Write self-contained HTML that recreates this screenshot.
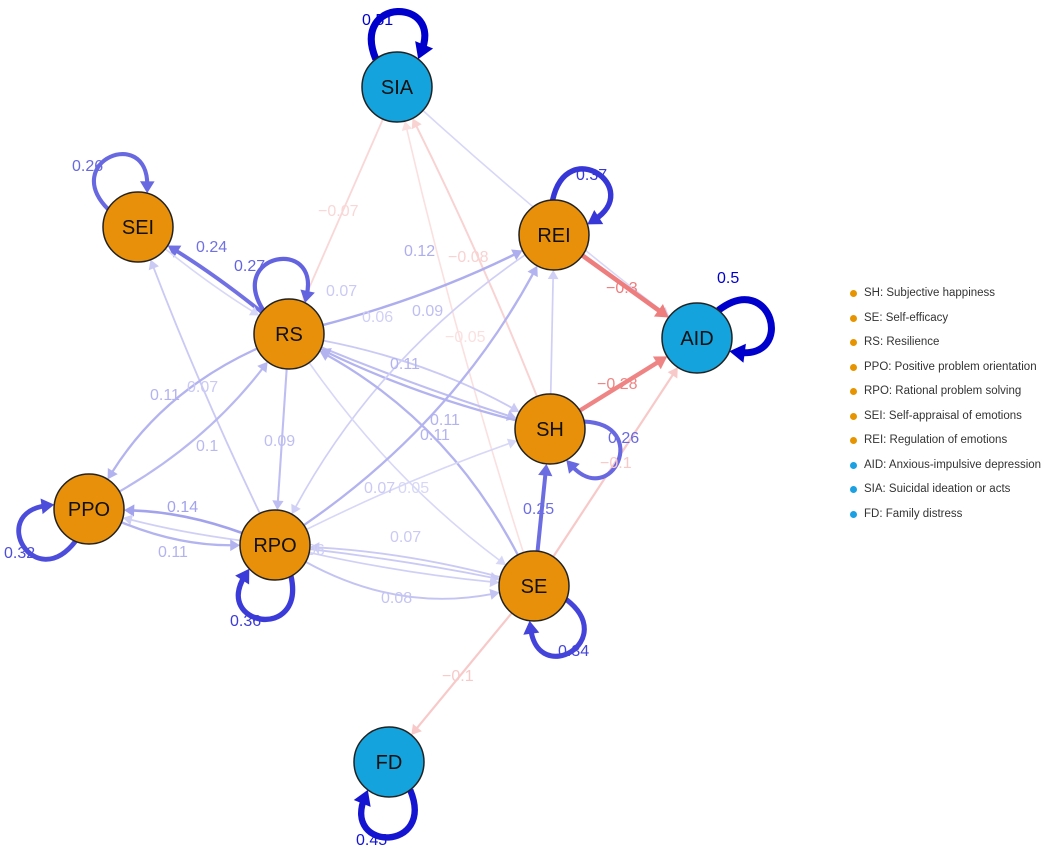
<!DOCTYPE html>
<html><head><meta charset="utf-8"><style>
body{margin:0;background:#fff;width:1058px;height:851px;overflow:hidden;font-family:"Liberation Sans",sans-serif}
#lg{position:absolute;left:846px;top:284px;font-size:11.5px;color:#333}
#lg div{height:24.5px;line-height:18px;position:relative;padding-left:18px;white-space:nowrap}
#lg div:before{content:"";position:absolute;left:4px;top:6px;width:7px;height:7px;border-radius:50%;background:var(--c)}
</style></head><body>
<svg id="s" width="1058" height="851" style="position:absolute;left:0;top:0"></svg>
<div id="lg">
<div style="--c:#e69500">SH: Subjective happiness</div>
<div style="--c:#e69500">SE: Self-efficacy</div>
<div style="--c:#e69500">RS: Resilience</div>
<div style="--c:#e69500">PPO: Positive problem orientation</div>
<div style="--c:#e69500">RPO: Rational problem solving</div>
<div style="--c:#e69500">SEI: Self-appraisal of emotions</div>
<div style="--c:#e69500">REI: Regulation of emotions</div>
<div style="--c:#1ba1e2">AID: Anxious-impulsive depression</div>
<div style="--c:#1ba1e2">SIA: Suicidal ideation or acts</div>
<div style="--c:#1ba1e2">FD: Family distress</div>
</div>
<script>
var N={SIA:[397,87,1],SEI:[138,227,0],REI:[554,235,0],RS:[289,334,0],AID:[697,338,1],SH:[550,429,0],PPO:[89,509,0],RPO:[275,545,0],SE:[534,586,0],FD:[389,762,1]};
var R=35,out="",lab="";
function col(w){var a=Math.min(1,Math.pow(Math.abs(w)/0.5,0.8));var b=w>0?[0,0,205]:[230,60,60];
return "rgb("+b.map(function(v){return Math.round(255+(v-255)*a)}).join(",")+")";}
function wd(w){return 1+Math.abs(w)*12;}
function arrow(x,y,dx,dy,c,w){var L=Math.hypot(dx,dy);dx/=L;dy/=L;var s=7+w*1.2,h=4+w*0.8;
var bx=x-dx*s,by=y-dy*s;return '<polygon points="'+x+','+y+' '+(bx-dy*h)+','+(by+dx*h)+' '+(bx+dy*h)+','+(by-dx*h)+'" fill="'+c+'"/>';}
function edge(a,b,w,cv,t,lx,ly){var A=N[a],B=N[b],mx=(A[0]+B[0])/2,my=(A[1]+B[1])/2,dx=B[0]-A[0],dy=B[1]-A[1];
var cx=mx-dy*cv,cy=my+dx*cv;
var u=Math.hypot(cx-A[0],cy-A[1]),sx=A[0]+(cx-A[0])/u*R,sy=A[1]+(cy-A[1])/u*R;
var v=Math.hypot(cx-B[0],cy-B[1]),ex=B[0]+(cx-B[0])/v*R,ey=B[1]+(cy-B[1])/v*R;
var c=col(w),W=wd(w);var s=Math.min(8+W,v*0.5);
var ex2=ex-(ex-cx)/Math.hypot(ex-cx,ey-cy)*s*0.8,ey2=ey-(ey-cy)/Math.hypot(ex-cx,ey-cy)*s*0.8;
out+='<path d="M'+sx+','+sy+' Q'+cx+','+cy+' '+ex2+','+ey2+'" fill="none" stroke="'+c+'" stroke-width="'+W+'"/>';
out+=arrow(ex,ey,ex-cx,ey-cy,c,W);
if(t)lab+='<text x="'+lx+'" y="'+ly+'" fill="'+c+'">'+t+'</text>';}
function loop(n,ang,w,t,lx,ly){var A=N[n],r=Math.PI/180,c=col(w),W=wd(w);
var a1=ang*r-0.65,a2=ang*r+0.65,sx=A[0]+Math.cos(a1)*R,sy=A[1]+Math.sin(a1)*R,ex=A[0]+Math.cos(a2)*R,ey=A[1]+Math.sin(a2)*R;
var c1x=A[0]+Math.cos(ang*r-0.48)*R*2.9,c1y=A[1]+Math.sin(ang*r-0.48)*R*2.9,c2x=A[0]+Math.cos(ang*r+0.48)*R*2.9,c2y=A[1]+Math.sin(ang*r+0.48)*R*2.9;
var L=Math.hypot(ex-c2x,ey-c2y),ex2=ex-(ex-c2x)/L*8,ey2=ey-(ey-c2y)/L*8;
out+='<path d="M'+sx+','+sy+' C'+c1x+','+c1y+' '+c2x+','+c2y+' '+ex2+','+ey2+'" fill="none" stroke="'+c+'" stroke-width="'+W+'"/>';
out+=arrow(ex,ey,ex-c2x,ey-c2y,c,W);
lab+='<text x="'+lx+'" y="'+ly+'" fill="'+c+'">'+t+'</text>';}
edge("SIA","AID",0.05,0.02,"",0,0);
edge("SIA","RS",-0.07,0,"\u22120.07",318,216);
edge("SH","SIA",-0.08,0.02,"\u22120.08",448,262);
edge("SE","SIA",-0.05,-0.02,"\u22120.05",445,342);
edge("RS","SEI",0.24,0.03,"0.24",196,252);
edge("SEI","RS",0.05,0.03,"",0,0);
edge("RS","REI",0.12,0.05,"0.12",404,256);
edge("RS","SH",0.07,-0.08,"0.07",326,296);
edge("RS","SH",0.09,0.02,"0.09",412,316);
edge("SH","RS",0.11,-0.05,"0.11",390,369);
edge("REI","RPO",0.06,0.12,"0.06",362,322);
edge("RPO","SEI",0.07,-0.02,"0.07",187,392);
edge("RS","PPO",0.11,0.15,"0.11",150,400);
edge("PPO","RS",0.1,0.1,"0.1",196,451);
edge("RS","RPO",0.09,0,"0.09",264,446);
edge("RS","SE",0.05,0.08,"",0,0);
edge("SE","RS",0.11,0.15,"0.11",430,425);
edge("RPO","REI",0.11,0.12,"0.11",420,440);
edge("RPO","SH",0.05,-0.03,"0.05",398,493);
edge("SE","RPO",0.07,0.05,"0.07",364,493);
edge("RPO","SE",0.07,-0.02,"0.07",390,542);
edge("RPO","PPO",0.14,0.08,"0.14",167,512);
edge("RPO","PPO",0.06,-0.03,"",0,0);
edge("PPO","RPO",0.11,0.1,"0.11",158,557);
edge("RPO","SE",0.06,0.03,"06",307,555);
edge("RPO","SE",0.08,0.18,"0.08",381,603);
edge("SH","REI",0.06,0,"",0,0);
edge("SE","SH",0.25,0,"0.25",523,514);
edge("SE","AID",-0.1,0,"\u22120.1",600,468);
edge("SE","FD",-0.1,0,"\u22120.1",442,681);
edge("REI","AID",-0.3,0,"\u22120.3",606,293);
edge("SH","AID",-0.28,0,"\u22120.28",597,389);
loop("SIA",-90,0.51,"0.51",362,25);
loop("SEI",-112,0.26,"0.26",72,171);
loop("RS",-100,0.27,"0.27",234,271);
loop("REI",-55,0.37,"0.37",576,180);
loop("AID",-15,0.5,"0.5",717,283);
loop("SH",25,0.26,"0.26",608,443);
loop("SE",60,0.34,"0.34",558,656);
loop("RPO",100,0.36,"0.36",230,626);
loop("PPO",150,0.32,"0.32",4,558);
loop("FD",90,0.45,"0.45",356,845);
var nd="";for(var k in N){var A=N[k];nd+='<circle cx="'+A[0]+'" cy="'+A[1]+'" r="'+R+'" fill="'+(A[2]?"#14a3dc":"#e8900a")+'" stroke="#222" stroke-width="1.5"/><text x="'+A[0]+'" y="'+(A[1]+7)+'" text-anchor="middle" font-size="20" fill="#111">'+k+'</text>';}
document.getElementById("s").innerHTML=out+'<g font-size="16">'+lab+'</g>'+nd;
</script>
</body></html>
